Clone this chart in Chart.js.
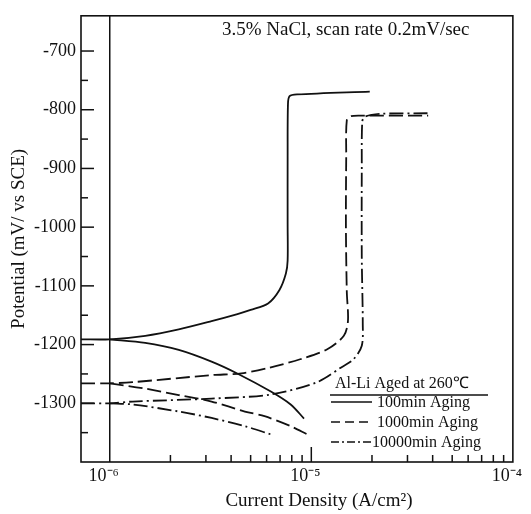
<!DOCTYPE html>
<html>
<head>
<meta charset="utf-8">
<script src="https://cdn.jsdelivr.net/npm/chart.js@4.4.1/dist/chart.umd.min.js"></script>
<style>
  html, body { margin: 0; padding: 0; background: #fff; }
  canvas { display: block; }
</style>
</head>
<body>
<canvas id="chart" width="531" height="514"></canvas>
<script>
// Polarization curves, Al-Li aged at 260C (current in A/cm2, potential in mV vs SCE)
const agingLabels = ['100min Aging', '1000min Aging', '10000min Aging'];

// 100 min aging
const anodicI100 = [7.2e-7, 1.0e-6, 1.5e-6, 2.2e-6, 3.2e-6, 4.3e-6, 5.0e-6, 6.1e-6, 6.95e-6, 7.48e-6, 7.63e-6, 7.63e-6, 7.63e-6, 7.66e-6, 7.8e-6, 8.5e-6, 1.95e-5];
const anodicE100 = [-1191, -1191, -1185, -1174, -1160, -1148, -1141, -1130, -1107, -1079, -1057, -995, -880, -790, -777, -774, -769];
const cathodicI100 = [1.0e-6, 1.5e-6, 2.2e-6, 3.2e-6, 4.34e-6, 6.3e-6, 7.9e-6, 9.2e-6];
const cathodicE100 = [-1191, -1197, -1209, -1229, -1250, -1280, -1302, -1326];

// 1000 min aging
const anodicI1000 = [7.2e-7, 1.0e-6, 1.3e-6, 3.2e-6, 4.5e-6, 6.1e-6, 8.8e-6, 1.2e-5, 1.45e-5, 1.52e-5, 1.50e-5, 1.485e-5, 1.49e-5, 1.50e-5, 1.57e-5, 1.8e-5, 3.8e-5];
const anodicE1000 = [-1266, -1266, -1264, -1252, -1249, -1240, -1225, -1208, -1185, -1160, -1110, -1000, -880, -818, -811, -810, -810];
const cathodicI1000 = [1.0e-6, 1.5e-6, 2.2e-6, 3.2e-6, 4.68e-6, 5.86e-6, 7.9e-6, 9.55e-6];
const cathodicE1000 = [-1266, -1275, -1286, -1297, -1314, -1322, -1339, -1353];

// 10000 min aging
const anodicI10000 = [7.2e-7, 1.0e-6, 1.3e-6, 3.2e-6, 6.3e-6, 1.07e-5, 1.42e-5, 1.62e-5, 1.78e-5, 1.80e-5, 1.78e-5, 1.78e-5, 1.79e-5, 1.84e-5, 2.2e-5, 3.8e-5];
const anodicE10000 = [-1300, -1300, -1297, -1292, -1285, -1264, -1238, -1225, -1202, -1163, -1051, -900, -820, -812, -807, -806];
const cathodicI10000 = [1.0e-6, 1.3e-6, 2.2e-6, 3.2e-6, 4.68e-6, 6.3e-6];
const cathodicE10000 = [-1300, -1302, -1314, -1325, -1339, -1353];

// axis ticks
const potentialLabels = [-700, -800, -900, -1000, -1100, -1200, -1300];
const potentialMinor = [-750, -850, -950, -1050, -1150, -1250, -1350];
const currentDecades = [1e-6, 1e-5, 1e-4];
const currentMinor = [2e-6, 3e-6, 4e-6, 5e-6, 6e-6, 7e-6, 8e-6, 9e-6, 2e-5, 3e-5, 4e-5, 5e-5, 6e-5, 7e-5, 8e-5, 9e-5];

const INK = '#111';
const SERIF = '"Liberation Serif", "Times New Roman", serif';
const dashes = [[], [14, 5], [14, 4, 2, 4]];
const legendDashes = [[], [9, 5], [8, 3, 2, 3]];

function pairs(xs, ys) {
    return xs.map((x, i) => ({ x: x, y: ys[i] }));
}

function curve(label, xs, ys, dash) {
    return {
        label: label,
        data: pairs(xs, ys),
        showLine: true,
        borderColor: INK,
        borderWidth: 1.8,
        borderDash: dash,
        pointRadius: 0,
        tension: 0.3,
        fill: false
    };
}

const datasets = [
    curve(agingLabels[0], anodicI100, anodicE100, dashes[0]),
    curve('', cathodicI100, cathodicE100, dashes[0]),
    curve(agingLabels[1], anodicI1000, anodicE1000, dashes[1]),
    curve('', cathodicI1000, cathodicE1000, dashes[1]),
    curve(agingLabels[2], anodicI10000, anodicE10000, dashes[2]),
    curve('', cathodicI10000, cathodicE10000, dashes[2])
];

const SUP = { '-': '\u207B', '0': '\u2070', '1': '\u00B9', '2': '\u00B2', '3': '\u00B3', '4': '\u2074', '5': '\u2075', '6': '\u2076', '7': '\u2077', '8': '\u2078', '9': '\u2079' };
function superscript(n) {
    return String(n).split('').map(c => SUP[c]).join('');
}

// frame, inward ticks, legend and notes
const decorPlugin = {
    id: 'decor',
    afterDatasetsDraw(chart) {
        const ctx = chart.ctx;
        const a = chart.chartArea;
        const xs = chart.scales.x;
        const ys = chart.scales.y;
        const line = (x1, y1, x2, y2) => {
            ctx.beginPath();
            ctx.moveTo(x1, y1);
            ctx.lineTo(x2, y2);
            ctx.stroke();
        };

        ctx.save();
        ctx.strokeStyle = INK;
        ctx.setLineDash([]);
        ctx.lineWidth = 1.6;
        ctx.strokeRect(a.left, a.top, a.right - a.left, a.bottom - a.top);

        ctx.lineWidth = 1.5;
        potentialLabels.forEach(v => {
            const py = ys.getPixelForValue(v);
            line(a.left, py, a.left + 13, py);
        });
        potentialMinor.forEach(v => {
            const py = ys.getPixelForValue(v);
            line(a.left, py, a.left + 7, py);
        });
        currentMinor.forEach(v => {
            const px = xs.getPixelForValue(v);
            line(px, a.bottom, px, a.bottom - 7);
        });
        // 10^-6 drawn as a full-height line, 10^-5 as a long tick
        const p6 = xs.getPixelForValue(currentDecades[0]);
        line(p6, a.top, p6, a.bottom);
        const p5 = xs.getPixelForValue(currentDecades[1]);
        line(p5, a.bottom, p5, a.bottom - 15);

        // test conditions
        ctx.fillStyle = INK;
        ctx.font = '19px ' + SERIF;
        ctx.textBaseline = 'alphabetic';
        ctx.textAlign = 'left';
        ctx.fillText('3.5% NaCl, scan rate 0.2mV/sec', 222, 35);

        // x axis title
        ctx.font = '19px ' + SERIF;
        ctx.textAlign = 'center';
        ctx.fillText('Current Density (A/cm\u00B2)', 319, 506);

        // legend
        const lx = 331;
        ctx.textAlign = 'left';
        ctx.font = '16px ' + SERIF;
        ctx.fillText('Al-Li Aged at 260\u2103', 335, 388);
        ctx.lineWidth = 1.3;
        line(330, 395, 488, 395);
        ctx.lineWidth = 1.6;
        ctx.textBaseline = 'middle';
        agingLabels.forEach((label, i) => {
            const ry = 402 + i * 20;
            ctx.setLineDash(legendDashes[i]);
            line(lx, ry, lx + 41, ry);
            ctx.setLineDash([]);
            ctx.fillText(label, i === 2 ? lx + 41 : lx + 46, ry + 1);
        });
        ctx.restore();
    }
};

new Chart(document.getElementById('chart'), {
    type: 'scatter',
    data: { datasets: datasets },
    options: {
        responsive: false,
        animation: false,
        layout: { padding: { top: 8, right: 12, left: 0, bottom: 0 } },
        plugins: {
            legend: { display: false },
            tooltip: { enabled: false }
        },
        scales: {
            x: {
                type: 'logarithmic',
                min: 7.2e-7,
                max: 1e-4,
                afterFit: s => { s.height = 52; },
                grid: { display: false, drawTicks: false },
                border: { display: false },
                ticks: {
                    autoSkip: false,
                    maxRotation: 0,
                    padding: 3,
                    labelOffset: -6,
                    color: INK,
                    font: { family: SERIF, size: 18 },
                    callback: (value) => {
                        const e = Math.log10(value);
                        if (Math.abs(e - Math.round(e)) < 1e-6) {
                            return '10' + superscript(Math.round(e));
                        }
                        return '';
                    }
                }
            },
            y: {
                type: 'linear',
                min: -1400,
                max: -640,
                afterFit: s => { s.width = 81; },
                grid: { display: false, drawTicks: false },
                border: { display: false },
                title: {
                    display: true,
                    text: 'Potential (mV/ vs SCE)',
                    color: INK,
                    font: { family: SERIF, size: 19 },
                    padding: { top: 8, bottom: 0 }
                },
                ticks: {
                    stepSize: 50,
                    autoSkip: false,
                    padding: 5,
                    color: INK,
                    font: { family: SERIF, size: 18 },
                    callback: (value) => potentialLabels.includes(value) ? '-' + Math.abs(value) : ''
                }
            }
        }
    },
    plugins: [decorPlugin]
});
</script>
</body>
</html>
